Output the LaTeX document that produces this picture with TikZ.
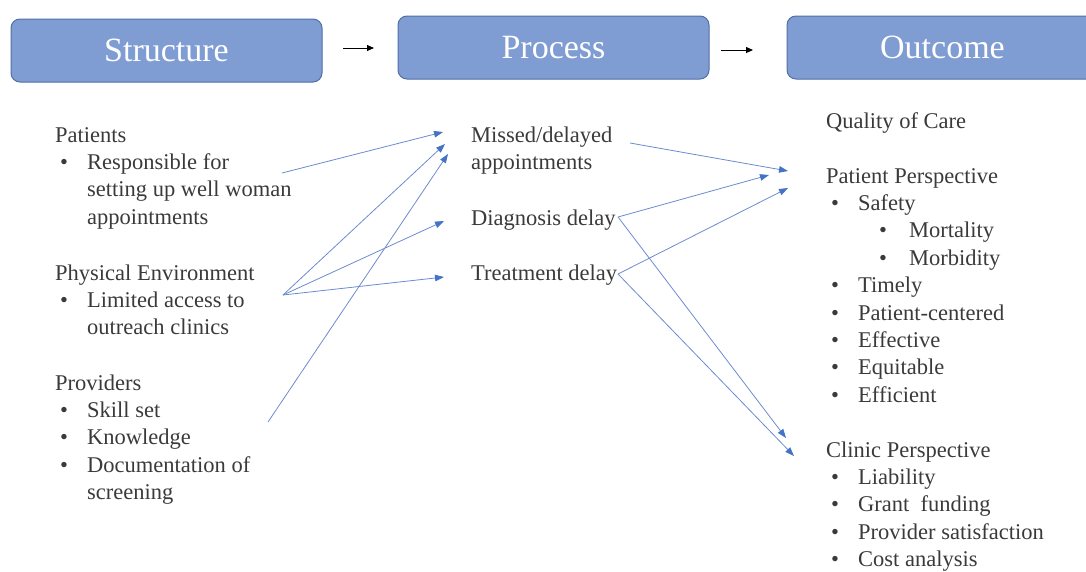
\documentclass[tikz,border=0pt]{standalone}
\usepackage{fontspec}
\setmainfont{LiberationSerif}[Extension=.ttf,UprightFont=*-Regular,BoldFont=*-Bold]
\usetikzlibrary{arrows.meta,positioning}
\definecolor{StageFill}{HTML}{7F9DD3}
\definecolor{StageLine}{HTML}{4F6FA6}
\definecolor{LinkBlue}{HTML}{6C8BCF}
\definecolor{TipBlue}{HTML}{4472C4}
\definecolor{BodyText}{HTML}{3A3A3A}
\newcommand{\itm}{\hspace*{5pt}\makebox[27pt][l]{\textbullet}}
\newcommand{\subitm}{\hspace*{53pt}\makebox[30pt][l]{\textbullet}}
\newcommand{\cnt}{\hspace*{32pt}}

\begin{document}
\begin{tikzpicture}[
  x=1pt,y=-1pt,
  stage/.style={
    rounded corners=9pt,
    line width=1pt,
    draw=StageLine,
    fill=StageFill,
    minimum width=311pt,
    minimum height=63pt,
    inner sep=0pt,
    text=white,
    font=\fontsize{34}{40}\selectfont
  },
  stagearrow/.style={
    -{Triangle[length=7pt,width=6pt]},
    line width=1pt,
    draw=black
  },
  link/.style={
    -{Triangle[length=9pt,width=6.5pt,color=TipBlue]},
    line width=0.8pt,
    draw=LinkBlue
  },
  % multi-line text: base sits on the last line
  body/.style={
    anchor=base west,
    inner sep=0pt,
    align=left,
    text=BodyText,
    font=\fontsize{22.5}{27.4}\selectfont
  }
]
\useasboundingbox (0,0) rectangle (1086,571);

% -------------------------------------------------
% Stage boxes
% -------------------------------------------------
\node[stage] (structure) at (166.5,50.5) {Structure};
\node[stage] (process)   at (553.5,47.5) {Process};
\node[stage] (outcome)   at (942.5,47.5) {Outcome};

\coordinate (s2p-a) at (343,48);
\coordinate (s2p-b) at (374,48);
\coordinate (p2o-a) at (721,50);
\coordinate (p2o-b) at (753,50);
\draw[stagearrow] (s2p-a) -- (s2p-b);
\draw[stagearrow] (p2o-a) -- (p2o-b);

% -------------------------------------------------
% Structure column
% -------------------------------------------------
\node[body] (patients) at (55,224.2)
{Patients\\
\itm Responsible for\\
\cnt setting up well woman\\
\cnt appointments};

\node[body] (physenv) at (55,334.8)
{Physical Environment\\
\itm Limited access to\\
\cnt outreach clinics};

\node[body] (providers) at (55,499.6)
{Providers\\
\itm Skill set\\
\itm Knowledge\\
\itm Documentation of\\
\cnt screening};

% -------------------------------------------------
% Process column
% -------------------------------------------------
\node[body] (missed) at (471,169.4)
{Missed/delayed\\
appointments};
\node[body] (diagdelay)  at (471,225) {Diagnosis delay};
\node[body] (treatdelay) at (471,280) {Treatment delay};

% -------------------------------------------------
% Outcome column
% -------------------------------------------------
\node[body] (quality) at (826,128) {Quality of Care};

\node[body] (patpersp) at (826,402.2)
{Patient Perspective\\
\itm Safety\\
\subitm Mortality\\
\subitm Morbidity\\
\itm Timely\\
\itm Patient-centered\\
\itm Effective\\
\itm Equitable\\
\itm Efficient};

\node[body] (clinpersp) at (826,566.6)
{Clinic Perspective\\
\itm Liability\\
\itm Grant\ \ funding\\
\itm Provider satisfaction\\
\itm Cost analysis};

% -------------------------------------------------
% Structure -> Process links
% -------------------------------------------------
\coordinate (pat-out)  at (282,173);
\coordinate (env-out)  at (283,295);
\coordinate (prov-out) at (268,422);
\coordinate (missed-in1) at (443,132);
\coordinate (missed-in2) at (445,144);
\coordinate (missed-in3) at (448,154);
\coordinate (diag-in)  at (444,221);
\coordinate (treat-in) at (444,277);

\draw[link] (pat-out)  -- (missed-in1);
\draw[link] (env-out)  -- (missed-in2);
\draw[link] (prov-out) -- (missed-in3);
\draw[link] (env-out)  -- (diag-in);
\draw[link] (env-out)  -- (treat-in);

% -------------------------------------------------
% Process -> Outcome links
% -------------------------------------------------
\coordinate (missed-out) at (630,143);
\coordinate (diag-out)  at (618,217);
\coordinate (treat-out) at (618,274);
\coordinate (pat-in1)  at (788,171);
\coordinate (pat-in2)  at (769,175);
\coordinate (pat-in3)  at (788,188);
\coordinate (clin-in1) at (786,438);
\coordinate (clin-in2) at (794,456);

\draw[link] (missed-out) -- (pat-in1);
\draw[link] (diag-out)  -- (pat-in2);
\draw[link] (treat-out) -- (pat-in3);
\draw[link] (diag-out)  -- (clin-in1);
\draw[link] (treat-out) -- (clin-in2);

\end{tikzpicture}
\end{document}
